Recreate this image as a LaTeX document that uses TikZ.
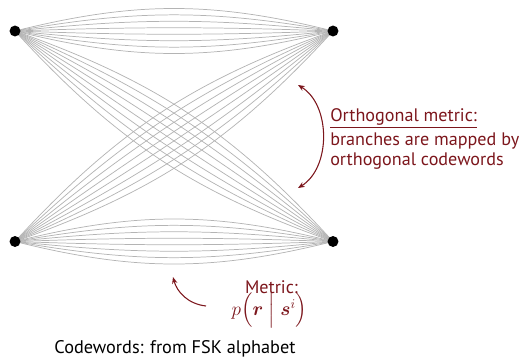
\documentclass[tikz,border=0pt]{standalone}
\usepackage{amsmath}
\usepackage{fontspec}
\setmainfont{PT Sans}
\usetikzlibrary{arrows.meta,backgrounds}
\definecolor{maroon}{RGB}{124,22,28}
\definecolor{branchgray}{RGB}{180,180,180}
\tikzset{
  dotnode/.style={circle,fill=black,inner sep=0pt,minimum size=8.2pt},
  branch/.style={draw=branchgray,line width=0.55pt},
  notearrow/.style={draw=maroon,line width=0.8pt,-{Stealth[length=5pt,width=4pt]}},
  notetext/.style={text=maroon,font=\fontsize{13.6}{14.8}\selectfont,inner sep=0pt}
}
\begin{document}
\begin{tikzpicture}[x=0.75pt,y=-0.75pt]
\useasboundingbox (0,0) rectangle (525,357);
\node[dotnode] (tl) at (15,31) {};
\node[dotnode] (tr) at (333,31) {};
\node[dotnode] (bl) at (15,241.5) {};
\node[dotnode] (br) at (333,241.5) {};
\begin{scope}[on background layer]
\foreach \a in {-14,-10,-6,-2,2,6,10,14}{
  \draw[branch] (tl.center) to[bend left=\a] (tr.center);
  \draw[branch] (bl.center) to[bend left=\a] (br.center);
  \draw[branch] (tl.center) to[bend left=\a] (br.center);
  \draw[branch] (bl.center) to[bend left=\a] (tr.center);
}
\end{scope}
\node[notetext,anchor=north west,align=left] (orth) at (330,108)
  {\underline{Orthogonal metric:}\\[1.8pt]branches are mapped by\\orthogonal codewords};
\coordinate (oa) at (298,85);
\coordinate (ob) at (298,188);
\draw[notearrow,{Stealth[length=5pt,width=4pt]}-{Stealth[length=5pt,width=4pt]}] (oa) .. controls (331,105) and (331,168) .. (ob);
\node[notetext,anchor=base] (metric) at (271.5,293.5) {Metric:};
\node[text=maroon,font=\fontsize{13.6}{15.6}\selectfont,inner sep=0pt] (formula) at (269.5,310.5)
  {$p\Bigl(\boldsymbol{r}\Bigm|\boldsymbol{s}^i\Bigr)$};
\coordinate (ma) at (206,306);
\coordinate (mb) at (173,277);
\draw[notearrow] (ma) .. controls (188,304) and (177,292) .. (mb);
\node[font=\fontsize{13.7}{15}\selectfont,anchor=base,inner sep=0pt] (code) at (175,353) {Codewords: from FSK alphabet};
\end{tikzpicture}
\end{document}
